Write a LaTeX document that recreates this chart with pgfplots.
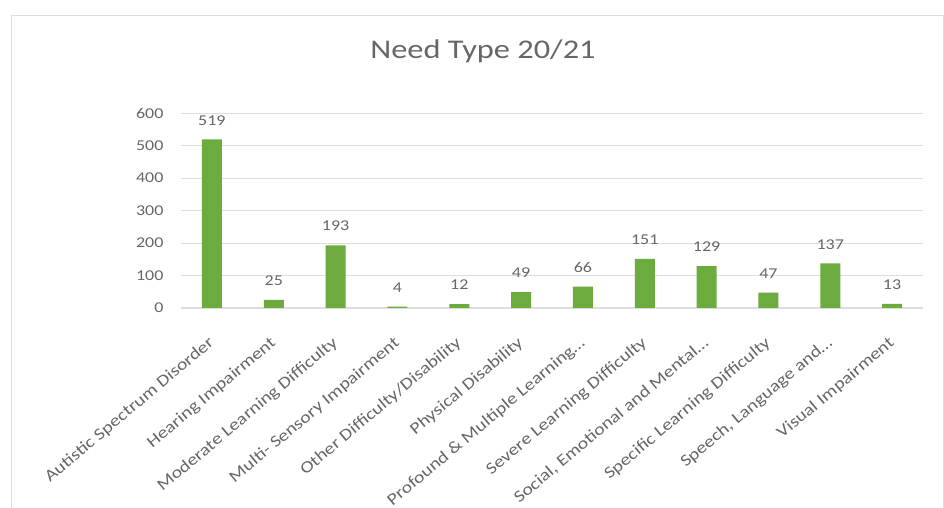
\documentclass[border=0pt]{standalone}
\usepackage{pgfplots}
\pgfplotsset{compat=1.18}
\usepackage{fontspec}
\setmainfont{Carlito}[FakeStretch=1.2]
\definecolor{bargreen}{HTML}{6CAB3E}
\definecolor{txt}{HTML}{666666}
\definecolor{gridc}{HTML}{DDDDDD}
\pgfplotstableread{
x y
0 519
1 25
2 193
3 4
4 12
5 49
6 66
7 151
8 129
9 47
10 137
11 13
}\needdata
\newcommand{\ellip}{\char"2026\relax}
\begin{document}
\begin{tikzpicture}[x=1pt,y=1pt]
\path[use as bounding box] (0,0) rectangle (944,508);
\draw[gridc, line width=1pt] (11,0)--(11,492)--(943,492)--(943,0);
\node[text=txt, font=\fontsize{27}{32}\selectfont] at (483,457) {Need Type 20/21};
\begin{axis}[
  at={(181pt,200pt)}, anchor=south west,
  scale only axis, width=742pt, height=195pt,
  xmin=-0.5, xmax=11.5, ymin=0, ymax=600,
  ytick={0,100,...,600},
  xtick=data,
  xticklabels={{Autistic Spectrum Disorder},{Hearing Impairment},{Moderate Learning Difficulty},{Multi- Sensory Impairment},{Other Difficulty/Disability},{Physical Disability},{Profound \& Multiple Learning\ellip}, {Severe Learning Difficulty},{Social, Emotional and Mental\ellip},{Specific Learning Difficulty},{Speech, Language and\ellip},{Visual Impairment}},
  axis x line*=bottom, axis y line*=left,
  y axis line style={draw=none},
  x axis line style={gridc, line width=1pt},
  major tick length=0pt,
  ymajorgrids, grid style={gridc, line width=0.8pt},
  /pgf/number format/assume math mode=true,
  yticklabel style={font=\fontsize{15}{18}\selectfont, text=txt, xshift=-14pt},
  xticklabel style={font=\fontsize{16.5}{19}\selectfont, text=txt, rotate=40, anchor=north east, inner sep=0pt, xshift=-21pt, yshift=-18pt},
  ybar, bar width=20pt,
  nodes near coords,
  every node near coord/.append style={font=\fontsize{15}{18}\selectfont, text=txt, inner sep=0pt, yshift=14pt, anchor=south},
  clip=false,
]
\addplot[fill=bargreen, draw=none] table[x=x, y=y] {\needdata};
\end{axis}
\end{tikzpicture}
\end{document}
